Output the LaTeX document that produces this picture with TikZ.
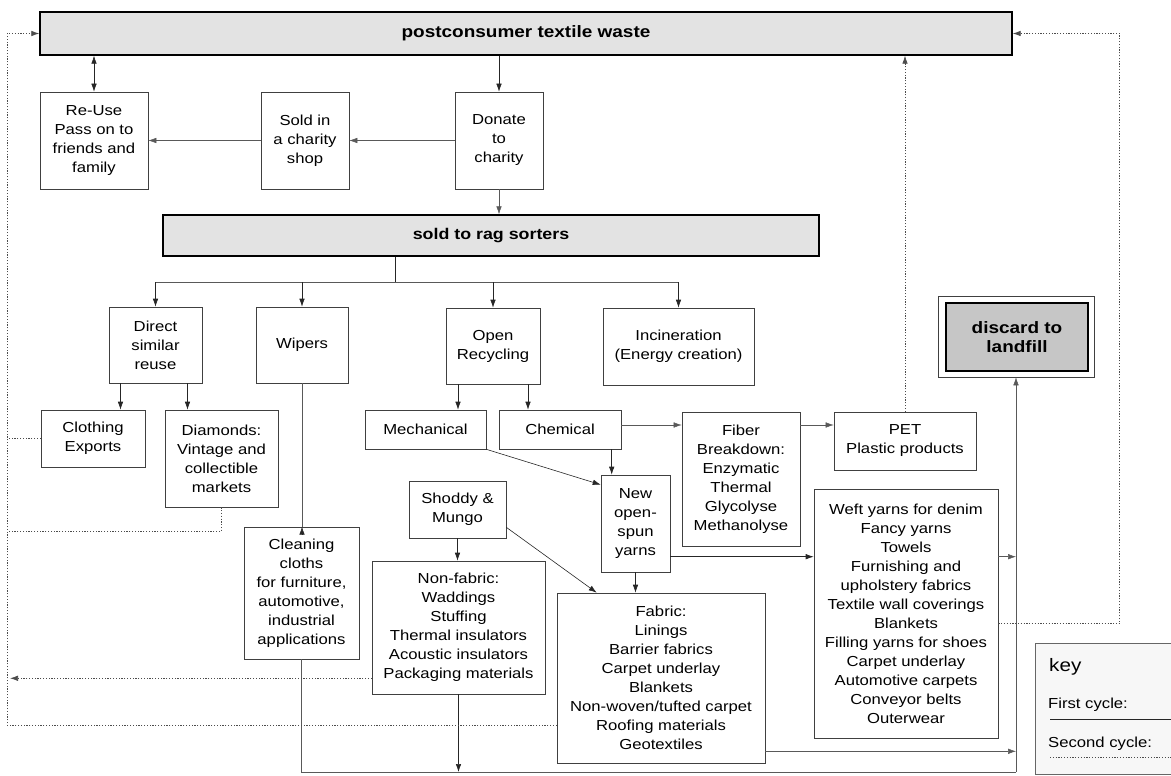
\documentclass[tikz,border=0pt]{standalone}
\usepackage{fontspec}
\setmainfont[FakeStretch=1.15]{Liberation Sans}
\usetikzlibrary{arrows.meta}
\begin{document}
\begin{tikzpicture}[x=1pt,y=-1pt,
  every node/.style={font=\fontsize{14.5}{19}\selectfont},
  box/.style={draw=black!75, line width=0.6pt, align=center, inner sep=0pt, fill=white},
  bigbox/.style={draw=black, line width=1.4pt, fill=gray!22, inner sep=0pt, font=\fontsize{16.5}{19}\selectfont\bfseries},
  tip/.style={-{Latex[length=8pt,width=5.5pt]}},
  conn/.style={line width=0.6pt, draw=black!85},
  arr/.style={conn, tip},
  lite/.style={line width=0.5pt, draw=black!65},
  litearr/.style={lite, tip},
  second/.style={line width=0.7pt, draw=black!70, dash pattern=on 1.2pt off 1.6pt},
]
\useasboundingbox (0,0) rectangle (1171,776);

% top row
\node[bigbox, minimum width=972pt, minimum height=43pt] (top) at (526,33.5) {postconsumer textile waste};
\node[box, minimum width=108pt, minimum height=97pt] (reuse) at (94,140.5) {Re-Use\\Pass on to\\friends and\\family};
\node[box, minimum width=88pt, minimum height=97pt] (sold) at (305,140.5) {Sold in\\a charity\\shop};
\node[box, minimum width=88pt, minimum height=97pt] (donate) at (499,140.5) {Donate\\to\\charity};
\node[bigbox, minimum width=656pt, minimum height=41pt, font=\fontsize{15.5}{19}\selectfont\bfseries] (rag) at (491,235.5) {sold to rag sorters};

% second level
\node[box, minimum width=93pt, minimum height=76pt] (direct) at (155.5,345) {Direct\\similar\\reuse};
\node[box, minimum width=92pt, minimum height=76pt] (wipers) at (302,345) {Wipers};
\node[box, minimum width=94pt, minimum height=76pt] (open) at (493,346) {Open\\Recycling};
\node[box, minimum width=151pt, minimum height=77pt] (incin) at (678.5,346.5) {Incineration\\(Energy creation)};
\node[box, minimum width=156pt, minimum height=81pt] (landout) at (1016,336.5) {};
\node[draw=black, line width=1.3pt, fill=gray!45, inner sep=0pt, align=center, minimum width=142pt, minimum height=68pt, font=\fontsize{16.5}{19}\selectfont\bfseries] (landfill) at (1017,337) {discard to\\landfill};

% third level
\node[box, minimum width=104pt, minimum height=57pt] (clothing) at (93,438.5) {Clothing\\Exports};
\node[box, minimum width=113pt, minimum height=97pt] (diamonds) at (221.5,458.5) {Diamonds:\\Vintage and\\collectible\\markets};
\node[box, minimum width=121pt, minimum height=39pt] (mech) at (425.5,429.5) {Mechanical};
\node[box, minimum width=122pt, minimum height=39pt] (chem) at (560,429.5) {Chemical};
\node[box, minimum width=118pt, minimum height=134pt] (fiber) at (741,479) {Fiber\\Breakdown:\\Enzymatic\\Thermal\\Glycolyse\\Methanolyse};
\node[box, minimum width=142pt, minimum height=58pt] (pet) at (905,441) {PET\\Plastic products};

% fourth level
\node[box, minimum width=69pt, minimum height=97pt] (new) at (635.5,523.5) {New\\open-\\spun\\yarns};
\node[box, minimum width=184pt, minimum height=249pt] (weft) at (906,613.5) {Weft yarns for denim\\Fancy yarns\\Towels\\Furnishing and\\upholstery fabrics\\Textile wall coverings\\Blankets\\Filling yarns for shoes\\Carpet underlay\\Automotive carpets\\Conveyor belts\\Outerwear};
\node[box, minimum width=97pt, minimum height=57pt] (shoddy) at (457.5,509.5) {Shoddy \&\\Mungo};
\node[box, minimum width=115pt, minimum height=132pt] (cleaning) at (301.5,593) {Cleaning\\cloths\\for furniture,\\automotive,\\industrial\\applications};
\node[box, minimum width=173pt, minimum height=133pt] (nonfab) at (458.5,627.5) {Non-fabric:\\Waddings\\Stuffing\\Thermal insulators\\Acoustic insulators\\Packaging materials};
\node[box, minimum width=208pt, minimum height=170pt] (fabric) at (661,678) {Fabric:\\Linings\\Barrier fabrics\\Carpet underlay\\Blankets\\Non-woven/tufted carpet\\Roofing materials\\Geotextiles};

% key
\node[draw=black!60, line width=0.6pt, fill=gray!6, inner sep=0pt, minimum width=170pt, minimum height=131pt, anchor=north west] (keybox) at (1035,643) {};
\node[anchor=base west, inner sep=0pt, font=\fontsize{18}{20}\selectfont] (keyt) at (1049,671) {key};
\node[anchor=base west, inner sep=0pt] (k1) at (1048,708) {First cycle:};
\node[anchor=base west, inner sep=0pt] (k2) at (1048,747) {Second cycle:};
\draw[conn] (1050,719) -- (1171,719);
\draw[second] (1050,757) -- (1171,757);

% coordinates
\coordinate (br) at (395,282);
\coordinate (lft) at (8,531);
\coordinate (bot) at (1016,772);
\coordinate (c425) at (0,425);
\coordinate (d1) at ([xshift=-35pt]direct.south);
\coordinate (d2) at ([xshift=32pt]direct.south);
\coordinate (o1) at ([xshift=-35pt]open.south);
\coordinate (o2) at ([xshift=35pt]open.south);
\coordinate (m1) at ([yshift=-10pt]new.north west);
\coordinate (c1) at ([xshift=11pt]new.north west);
\coordinate (n1) at ([yshift=-82pt]new.north east);
\coordinate (s1) at ([yshift=11pt]shoddy.south east);
\coordinate (f1) at ([xshift=40pt]fabric.north west);
\coordinate (f2) at ([yshift=12pt]fabric.south east);
\coordinate (f3) at ([yshift=38pt]fabric.south west);
\coordinate (w1) at ([yshift=-68pt]weft.north east);
\coordinate (w2) at ([yshift=-10pt]weft.east);
\coordinate (nf1) at ([yshift=16pt]nonfab.south west);
\coordinate (ltop) at ([xshift=-32pt]top.west);
\coordinate (rtop) at ([xshift=107pt]top.east);

% first cycle
\draw[conn, {Latex[length=8pt,width=5.5pt]}-{Latex[length=8pt,width=5.5pt]}] (reuse.north |- top.south) -- (reuse.north);
\draw[arr] (donate.north |- top.south) -- (donate.north);
\draw[litearr] (donate.west) -- (sold.east);
\draw[litearr] (sold.west) -- (reuse.east);
\draw[litearr] (donate.south) -- (donate.south |- rag.north);
\draw[conn] (rag.south -| br) -- (br);
\draw[lite] (direct.north |- br) -- (incin.north |- br);
\foreach \n in {direct,wipers,open,incin} \draw[arr] (\n.north |- br) -- (\n.north);
\draw[arr] (d1) -- (d1 |- clothing.north);
\draw[arr] (d2) -- (d2 |- diamonds.north);
\draw[arr] (o1) -- (o1 |- mech.north);
\draw[arr] (o2) -- (o2 |- chem.north);
\draw[lite] (wipers.south) -- (wipers.south |- cleaning.north);
\draw[arr] ([yshift=-8pt]wipers.south |- cleaning.north) -- (wipers.south |- cleaning.north);
\draw[litearr] (chem.east |- c425) -- (fiber.west |- c425);
\draw[litearr] (fiber.east |- c425) -- (pet.west |- c425);
\draw[arr] (mech.south east) -- (m1);
\draw[arr] (c1 |- chem.south) -- (c1);
\draw[arr] (n1) -- (n1 -| weft.west);
\draw[arr] (new.south) -- (new.south |- fabric.north);
\draw[arr] (shoddy.south) -- (shoddy.south |- nonfab.north);
\draw[arr] (s1) -- (f1);
\draw[lite] (cleaning.south) |- (bot);
\draw[arr] (nonfab.south) -- (nonfab.south |- bot);
\draw[litearr] (bot) -- (landout.south);
\draw[litearr] (f2) -- (f2 -| bot);
\draw[litearr] (w1) -- (w1 -| bot);

% second cycle
\draw[second, tip] (pet.north) -- (pet.north |- top.south);
\draw[second, tip] (w2) -| (rtop) -- (top.east);
\draw[second, tip] (f3) -| (ltop) -- (top.west);
\draw[second] (clothing.west) -- (clothing.west -| lft);
\draw[second] (diamonds.south) |- (lft);
\draw[second, tip] (nf1) -- ([xshift=2pt]nf1 -| lft);
\end{tikzpicture}
\end{document}
